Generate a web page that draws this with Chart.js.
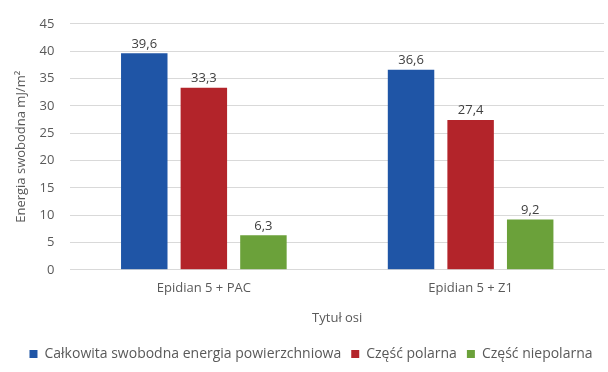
<!DOCTYPE html>
<html><head><meta charset="utf-8">
<script src="https://cdn.jsdelivr.net/npm/chart.js@4/dist/chart.umd.min.js"></script>
<style>html,body{margin:0;padding:0;background:#fff}#w{width:608px;height:372px}</style>
</head><body><div id="w"><canvas id="c"></canvas></div>
<script>
const categories = ["Epidian 5 + PAC", "Epidian 5 + Z1"];
const seriesNames = ["Całkowita swobodna energia powierzchniowa", "Część polarna", "Część niepolarna"];
const totalEnergy = [39.6, 36.6];
const polarPart = [33.3, 27.4];
const nonpolarPart = [6.3, 9.2];
const colors = ["#1F55A6", "#B3242A", "#6BA13A"];
const FONT = "'Open Sans', sans-serif";
const TXT = "#595959";

const labelPlugin = {
  id: 'vals',
  afterDatasetsDraw(chart) {
    const ctx = chart.ctx;
    ctx.save();
    ctx.font = "13px " + FONT;
    ctx.fillStyle = "#404040";
    ctx.textAlign = "center";
    ctx.textBaseline = "bottom";
    chart.data.datasets.forEach((ds, i) => {
      chart.getDatasetMeta(i).data.forEach((el, j) => {
        ctx.fillText(ds.data[j].toFixed(1).replace('.', ','), el.x, el.y - 3);
      });
    });
    ctx.restore();
  }
};

new Chart(document.getElementById('c'), {
  type: 'bar',
  data: {
    labels: categories,
    datasets: [
      {label: seriesNames[0], data: totalEnergy, backgroundColor: colors[0]},
      {label: seriesNames[1], data: polarPart, backgroundColor: colors[1]},
      {label: seriesNames[2], data: nonpolarPart, backgroundColor: colors[2]}
    ]
  },
  options: {
    responsive: true, maintainAspectRatio: false, animation: false,
    layout: {padding: {left: 18, right: 4, top: 21, bottom: 1}},
    datasets: {bar: {barPercentage: 0.78, categoryPercentage: 0.67}},
    plugins: {
      legend: {position: 'bottom', labels: {boxWidth: 8, boxHeight: 8, padding: 10, color: TXT, font: {family: FONT, size: 14}}},
      tooltip: {enabled: false}
    },
    scales: {
      x: {
        grid: {display: false},
        border: {color: '#d9d9d9'},
        ticks: {color: TXT, font: {family: FONT, size: 13}, padding: 3},
        title: {display: true, text: 'Tytuł osi', color: TXT, font: {family: FONT, size: 13}, padding: {top: 11, bottom: 11}}
      },
      y: {
        min: 0, max: 45,
        grid: {color: '#d9d9d9', drawTicks: false},
        border: {display: false},
        ticks: {stepSize: 5, color: TXT, font: {family: FONT, size: 13}, padding: 16},
        title: {display: true, text: 'Energia swobodna mJ/m²', color: TXT, font: {family: FONT, size: 13}, padding: {top: -5, bottom: -5}}
      }
    }
  },
  plugins: [labelPlugin]
});
</script></body></html>
